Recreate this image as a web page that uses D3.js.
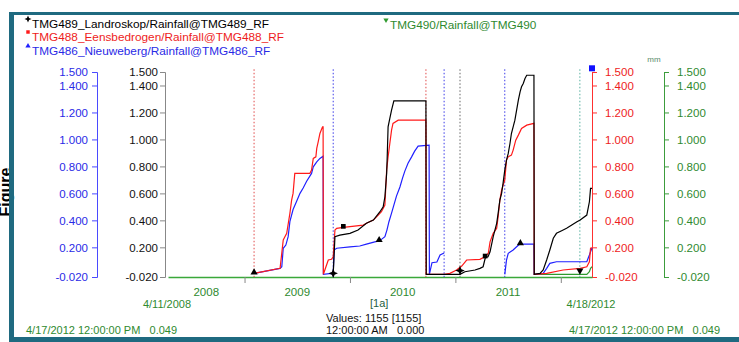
<!DOCTYPE html>
<html>
<head>
<meta charset="utf-8">
<script src="https://cdn.jsdelivr.net/npm/d3@7"></script>
<style>
  body { margin: 0; background: #fff; }
  svg { display: block; font-family: "Liberation Sans", Arial, sans-serif; }
</style>
</head>
<body>
<svg id="chart" width="739" height="342"></svg>
<script>
const parse = d3.timeParse("%Y-%m-%d");

// axis data
const timeDomain = ["2008-04-11", "2012-04-18"];
const yTicks = [-0.02, 0.2, 0.4, 0.6, 0.8, 1.0, 1.2, 1.4, 1.5];
const yearTicks = ["2009-01-01", "2010-01-01", "2011-01-01", "2012-01-01"];
const yearLabels = ["2008", "2009", "2010", "2011"];

const seriesNames = [
    "TMG489_Landroskop/Rainfall@TMG489_RF",
    "TMG488_Eensbedrogen/Rainfall@TMG488_RF",
    "TMG486_Nieuweberg/Rainfall@TMG486_RF",
    "TMG490/Rainfall@TMG490"
];

// cumulative rainfall (mm), [date, value]
const landroskop = [
    ["2009-11-04",0],["2009-11-10",0.279],["2009-11-27",0.291],["2010-01-01",0.304],["2010-01-29",0.328],
    ["2010-02-27",0.378],["2010-03-23",0.402],["2010-04-15",0.464],["2010-04-26",0.501],["2010-05-02",0.575],
    ["2010-05-08",0.748],["2010-05-10",0.871],["2010-05-13",1.093],["2010-05-19",1.156],["2010-05-25",1.217],
    ["2010-06-02",1.286],["2010-09-21",1.286],["2010-09-22",0],
    ["2011-01-17",0],["2011-02-03",0.019],["2011-03-10",0.032],["2011-03-27",0.044],["2011-04-07",0.056],
    ["2011-04-15",0.126],["2011-04-24",0.13],["2011-05-01",0.167],["2011-05-12",0.279],["2011-05-24",0.378],
    ["2011-05-29",0.452],["2011-06-04",0.55],["2011-06-10",0.6],["2011-06-15",0.674],["2011-06-21",0.773],
    ["2011-06-27",0.847],["2011-07-03",0.896],["2011-07-09",0.97],["2011-07-14",1.044],["2011-07-20",1.093],
    ["2011-07-26",1.143],["2011-08-01",1.217],["2011-08-07",1.291],["2011-08-13",1.353],["2011-08-18",1.39],
    ["2011-08-24",1.415],["2011-08-30",1.452],["2011-09-05",1.476],["2011-09-30",1.476],["2011-10-01",0],
    ["2011-10-21",0.007],["2011-11-01",0.032],["2011-11-13",0.106],["2011-11-24",0.18],["2011-12-06",0.267],
    ["2011-12-17",0.304],["2012-01-04",0.323],["2012-01-21",0.341],["2012-02-08",0.365],["2012-02-26",0.39],
    ["2012-03-08",0.402],["2012-03-31",0.439],["2012-04-09",0.538],["2012-04-13",0.637],["2012-04-18",0.637]
];

const eensbedrogen = [
    ["2009-02-03",0.007],["2009-05-04",0.044],["2009-05-15",0.254],["2009-05-27",0.304],["2009-06-07",0.452],
    ["2009-06-13",0.55],["2009-06-18",0.6],["2009-06-24",0.748],["2009-08-15",0.748],["2009-08-21",0.773],
    ["2009-08-27",0.859],["2009-09-05",0.871],["2009-09-08",0.933],["2009-09-13",0.982],["2009-09-19",1.044],
    ["2009-09-28",1.093],["2009-09-30",1.093],["2009-10-01",0],
    ["2009-10-12",0.069],["2009-10-18",0.106],["2009-10-29",0.111],["2009-11-04",0.13],["2009-11-10",0.328],
    ["2009-11-16",0.341],["2009-12-09",0.348],["2010-02-16",0.365],["2010-02-27",0.378],["2010-03-23",0.402],
    ["2010-04-09",0.439],["2010-04-20",0.464],["2010-05-02",0.513],["2010-05-08",0.773],["2010-05-13",0.871],
    ["2010-05-19",0.97],["2010-05-25",1.069],["2010-05-30",1.119],["2010-06-17",1.143],["2010-09-21",1.143],
    ["2010-09-22",0],
    ["2010-11-23",0],["2010-12-13",0.007],["2011-01-05",0.032],["2011-01-23",0.061],["2011-02-09",0.106],
    ["2011-03-27",0.111],["2011-04-13",0.13],["2011-04-25",0.156],["2011-05-01",0.241],["2011-05-12",0.304],
    ["2011-05-24",0.341],["2011-05-29",0.427],["2011-06-04",0.55],["2011-06-10",0.624],["2011-06-21",0.699],
    ["2011-06-27",0.847],["2011-07-03",0.871],["2011-07-14",0.884],["2011-07-20",0.921],["2011-07-29",0.995],
    ["2011-08-07",1.032],["2011-08-18",1.081],["2011-09-05",1.106],["2011-09-30",1.119],["2011-10-01",0],
    ["2011-11-13",0.007],["2012-01-09",0.032],["2012-03-08",0.044],["2012-03-31",0.056],["2012-04-09",0.093],
    ["2012-04-13",0.193],["2012-04-18",0.197]
];

const nieuweberg = [
    ["2009-02-03",0.007],["2009-05-04",0.044],["2009-05-10",0.056],["2009-05-15",0.193],["2009-05-24",0.217],
    ["2009-06-01",0.279],["2009-06-07",0.39],["2009-06-18",0.48],["2009-06-24",0.51],["2009-06-30",0.54],
    ["2009-07-12",0.6],["2009-07-23",0.64],["2009-08-04",0.69],["2009-08-21",0.748],["2009-08-27",0.797],
    ["2009-09-08",0.834],["2009-09-19",0.859],["2009-09-30",0.876],["2009-10-01",0],
    ["2009-10-29",0.007],["2009-11-04",0],["2009-11-07",0.18],["2009-11-16",0.193],["2010-01-01",0.204],
    ["2010-02-04",0.21],["2010-02-27",0.224],["2010-03-28",0.241],["2010-04-12",0.247],["2010-04-20",0.259],
    ["2010-05-02",0.279],["2010-05-09",0.328],["2010-05-16",0.39],["2010-05-25",0.454],["2010-06-02",0.513],
    ["2010-06-11",0.58],["2010-06-23",0.647],["2010-07-02",0.713],["2010-07-10",0.765],["2010-07-21",0.824],
    ["2010-08-02",0.869],["2010-08-13",0.913],["2010-08-25",0.95],["2010-10-02",0.958],["2010-10-03",0],
    ["2010-10-12",0.086],["2010-10-29",0.091],["2010-11-09",0.143],["2010-11-23",0.158],["2010-11-24",null],
    ["2011-06-21",0],["2011-06-27",0.106],["2011-07-03",0.156],["2011-07-20",0.18],["2011-08-01",0.204],
    ["2011-08-12",0.224],["2011-09-30",0.224],["2011-10-01",0],
    ["2011-11-01",0.007],["2011-11-13",0.044],["2011-11-24",0.081],["2011-12-17",0.093],["2012-03-31",0.093],
    ["2012-04-09",0.143],["2012-04-13",0.167],["2012-04-18",0.195]
];

const tmg490 = [
    ["2011-10-01",0],["2012-03-31",0],["2012-04-09",0.019],["2012-04-13",0.044],["2012-04-18",0.056]
];

// point markers: date, value, series index
const markerDates = ["2009-02-03","2009-11-04","2009-12-09","2010-04-12","2011-01-17","2011-04-14","2011-08-14","2012-03-07"];
const markerValues = [0.007, 0, 0.348, 0.247, 0.02, 0.128, 0.224, 0.02];
const markerSeries = [2, 0, 1, 2, 0, 1, 2, 3];

// vertical cursor lines: date, series index
const cursorDates = ["2009-02-03","2009-11-04","2010-09-21","2010-11-23","2011-01-17","2011-06-21","2012-03-07"];
const cursorSeries = [1, 2, 1, 2, 0, 2, 3];

const colors = ["#000000", "#ff1a1a", "#2020ff", "#2e9a2e"];
const textColors = ["#000000", "#ee1c1c", "#2a2ae6", "#2f8a2f"];
const cursorColors = ["#666666", "#e04848", "#3a3ae8", "#58b0a0"];
const greenText = "#2f8a2f";
const frameColor = "#1f6a80";

const svg = d3.select("#chart");

// left-most rotated caption, partly hidden by the frame
svg.append("text")
    .attr("transform", "translate(11,192) rotate(-90)")
    .attr("text-anchor", "middle")
    .attr("font-size", 16)
    .attr("font-weight", "bold")
    .text("Figure");

const x = d3.scaleTime()
    .domain(timeDomain.map(parse))
    .range([168, 592]);
const y = d3.scaleLinear()
    .domain([-0.02, 1.5])
    .range([277, 72]);

const fmt = d => d.toFixed(3);

// y axes
function yAxis(axis, xpos, color, pad) {
    const g = svg.append("g")
        .attr("transform", `translate(${xpos},0)`)
        .call(axis.tickValues(yTicks).tickFormat(fmt).tickSize(5).tickSizeOuter(5).tickPadding(pad));
    g.select(".domain").attr("stroke", color);
    g.selectAll(".tick line").attr("stroke", color);
    g.selectAll(".tick text")
        .attr("font-size", 11.5)
        .attr("font-family", "Liberation Sans, Arial, sans-serif");
    return g;
}
yAxis(d3.axisLeft(y), 97, "#4a4aff", 4).selectAll(".tick text").attr("fill", textColors[2]);
yAxis(d3.axisLeft(y), 165, "#888", 2).selectAll(".tick text").attr("fill", "#111");
yAxis(d3.axisRight(y), 592, "#ff3030", 8).selectAll(".tick text").attr("fill", textColors[1]);
yAxis(d3.axisRight(y), 664, "#3c9c3c", 8).selectAll(".tick text").attr("fill", greenText);

svg.append("text")
    .attr("x", 654).attr("y", 62)
    .attr("text-anchor", "middle")
    .attr("font-size", 8)
    .attr("fill", "#5a8a6a")
    .text("mm");

// time axis
const xAxis = svg.append("g")
    .attr("transform", `translate(0,${y(-0.02)})`)
    .call(d3.axisBottom(x).tickValues(yearTicks.map(parse)).tickFormat("").tickSize(6).tickSizeOuter(0));
xAxis.select(".domain").attr("stroke", "#3aa83a").attr("stroke-width", 1.5);
xAxis.selectAll(".tick line").attr("stroke", "#888");

const [d0, d1] = x.domain();
svg.append("g").selectAll("text")
    .data(yearLabels)
    .join("text")
    .attr("x", d => {
        const a = new Date(Math.max(d0, new Date(+d, 0, 1)));
        const b = new Date(Math.min(d1, new Date(+d + 1, 0, 1)));
        return (x(a) + x(b)) / 2;
    })
    .attr("y", 296)
    .attr("text-anchor", "middle")
    .attr("font-size", 11.5)
    .attr("fill", greenText)
    .text(d => d);

// cursor lines
svg.append("g").selectAll("line")
    .data(cursorDates)
    .join("line")
    .attr("x1", d => x(parse(d))).attr("x2", d => x(parse(d)))
    .attr("y1", y(1.52)).attr("y2", y(-0.02))
    .attr("stroke", (d, i) => cursorColors[cursorSeries[i]])
    .attr("stroke-width", 1)
    .attr("stroke-dasharray", "1.5,2");

// series
const line = d3.line()
    .defined(d => d[1] !== null)
    .x(d => x(parse(d[0])))
    .y(d => y(d[1]));

const allSeries = [landroskop, eensbedrogen, nieuweberg, tmg490];
const drawOrder = [3, 2, 1, 0];
svg.append("g").selectAll("path")
    .data(drawOrder)
    .join("path")
    .attr("d", i => line(allSeries[i]))
    .attr("fill", "none")
    .attr("stroke", i => colors[i])
    .attr("stroke-width", 1.2)
    .attr("stroke-linejoin", "miter");

// four-point star like the one in the plotting program
const symbolSparkle = {
    draw(context, size) {
        const r = Math.sqrt(size) * 0.75, k = r * 0.3;
        context.moveTo(0, -r);
        context.lineTo(k, -k);
        context.lineTo(r, 0);
        context.lineTo(k, k);
        context.lineTo(0, r);
        context.lineTo(-k, k);
        context.lineTo(-r, 0);
        context.lineTo(-k, -k);
        context.closePath();
    }
};

// markers
const shapes = [symbolSparkle, d3.symbolSquare, d3.symbolTriangle, d3.symbolTriangle];
svg.append("g").selectAll("path")
    .data(markerDates)
    .join("path")
    .attr("transform", (d, i) => {
        const rot = markerSeries[i] === 3 ? " rotate(180)" : "";
        return `translate(${x(parse(d))},${y(markerValues[i]) - 1})${rot}`;
    })
    .attr("d", (d, i) => d3.symbol().type(shapes[markerSeries[i]]).size(markerSeries[i] === 0 ? 40 : 22)())
    .attr("fill", "#000");

// end handle
svg.append("rect")
    .attr("x", x(d1) - 3).attr("y", y(1.52) - 4)
    .attr("width", 6).attr("height", 6)
    .attr("fill", "#1010ff");

// legend
const legendPos = [[32, 28], [32, 41], [32, 55], [390, 29]];
const legend = svg.append("g").selectAll("g")
    .data(seriesNames)
    .join("g")
    .attr("transform", (d, i) => `translate(${legendPos[i][0]},${legendPos[i][1]})`);
legend.append("path")
    .attr("transform", (d, i) => `translate(-4,-9)${i === 3 ? " rotate(180)" : ""}`)
    .attr("d", (d, i) => d3.symbol().type(shapes[i]).size(i === 0 ? 22 : 12)())
    .attr("fill", (d, i) => colors[i]);
legend.append("text")
    .attr("font-size", 11.8)
    .attr("fill", (d, i) => textColors[i])
    .text(d => d);

// footer texts
const foot = svg.append("g").attr("font-size", 11);
foot.append("text").attr("x", 167).attr("y", 308).attr("text-anchor", "middle").attr("fill", greenText).text("4/11/2008");
foot.append("text").attr("x", 591).attr("y", 308).attr("text-anchor", "middle").attr("fill", greenText).text("4/18/2012");
foot.append("text").attr("x", 370).attr("y", 307).attr("fill", "#1f5f3f").text("[1a]");
foot.append("text").attr("x", 326).attr("y", 322).attr("fill", "#111").text("Values: 1155 [1155]");
foot.append("text").attr("x", 326).attr("y", 334).attr("fill", "#111").style("white-space", "pre").text("12:00:00 AM   0.000");
foot.append("text").attr("x", 26).attr("y", 334).attr("fill", greenText).style("white-space", "pre").text("4/17/2012 12:00:00 PM   0.049");
foot.append("text").attr("x", 569).attr("y", 334).attr("fill", greenText).style("white-space", "pre").text("4/17/2012 12:00:00 PM   0.049");

// panel frame, drawn last so it sits on top
const frame = svg.append("g").attr("fill", frameColor);
frame.append("rect").attr("x", 9).attr("y", 12).attr("width", 5).attr("height", 330);
frame.append("rect").attr("x", 9).attr("y", 12).attr("width", 730).attr("height", 3);
frame.append("rect").attr("x", 9).attr("y", 337).attr("width", 730).attr("height", 5);
</script>
</body>
</html>
